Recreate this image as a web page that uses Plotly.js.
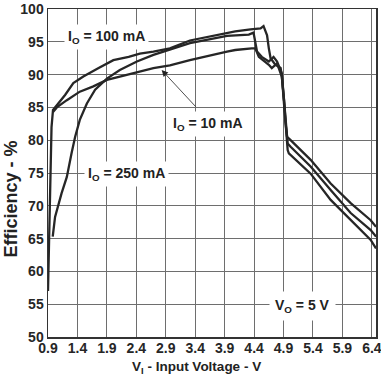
<!DOCTYPE html>
<html>
<head>
<meta charset="utf-8">
<script src="https://cdn.plot.ly/plotly-3.0.1.min.js"></script>
<style>html,body{margin:0;padding:0;background:#fff;}#chart{width:381px;height:376px;}</style>
</head>
<body>
<div id="chart"></div>
<script>
// I_O = 100 mA
var x100 = [0.90,0.93,0.96,0.985,1.02,1.10,1.19,1.33,1.50,1.76,2.01,2.27,2.46,2.69,2.97,3.31,3.90,4.08,4.34,4.51,4.56,4.62,4.65,4.68,4.76,4.85,4.87,4.90,4.93,4.96,5.02,5.36,5.70,6.04,6.38,6.47];
var y100 = [57.0,72.0,82.0,84.6,85.0,86.0,86.9,88.7,89.7,91.0,92.2,92.7,93.2,93.5,94.0,95.2,96.2,96.6,96.9,97.05,97.4,96.0,94.0,92.5,91.5,91.0,89.9,86.0,83.0,80.5,80.0,77.0,73.4,70.4,67.8,66.8];
// I_O = 250 mA
var x250 = [0.98,1.02,1.13,1.22,1.30,1.36,1.44,1.56,1.70,1.90,2.12,2.41,2.69,2.97,3.31,3.94,4.31,4.39,4.42,4.45,4.53,4.65,4.73,4.79,4.87,4.91,4.94,4.97,5.02,5.36,5.70,6.04,6.38,6.47];
var y250 = [65.3,68.3,71.9,74.4,78.0,80.5,83.1,85.6,87.7,89.4,90.7,92.0,93.0,93.8,94.8,95.9,96.1,96.4,95.0,93.5,92.7,92.0,92.7,92.0,90.2,86.0,82.5,79.5,79.0,76.0,72.4,68.9,66.3,65.3];
// I_O = 10 mA
var x10 = [0.985,1.05,1.22,1.44,1.67,1.90,2.12,2.41,2.69,2.97,3.31,3.94,4.08,4.36,4.42,4.48,4.56,4.65,4.70,4.79,4.87,4.91,4.94,4.97,4.99,5.36,5.70,6.04,6.38,6.47];
var y10 = [84.3,85.0,86.1,87.4,88.2,89.2,89.7,90.4,91.0,91.4,92.2,93.5,93.75,94.0,94.0,92.7,92.2,91.5,91.0,91.7,89.7,86.0,82.0,78.5,78.0,74.9,70.9,67.8,64.8,63.5];

var xTicks = [0.9,1.4,1.9,2.4,2.9,3.4,3.9,4.4,4.9,5.4,5.9,6.4];
var xTickText = ['0.9','1.4','1.9','2.4','2.9','3.4','3.9','4.4','4.9','5.4','5.9','6.4'];
var yTicks = [50,55,60,65,70,75,80,85,90,95,100];

var lineStyle = {color:'#262626', width:2.3};
var traces = [
  {x:x100, y:y100, mode:'lines', line:lineStyle, name:'I_O = 100 mA', hoverinfo:'skip'},
  {x:x250, y:y250, mode:'lines', line:lineStyle, name:'I_O = 250 mA', hoverinfo:'skip'},
  {x:x10,  y:y10,  mode:'lines', line:lineStyle, name:'I_O = 10 mA', hoverinfo:'skip'}
];

var fontFam = 'Liberation Sans, Arial, sans-serif';
var annFont = {family:fontFam, size:14, color:'#222', weight:'bold'};
var tickFont = {family:fontFam, size:14, color:'#262626', weight:'bold'};

var layout = {
  width:381, height:376,
  margin:{l:48, r:5, t:9, b:39},
  paper_bgcolor:'#fff', plot_bgcolor:'#fff',
  showlegend:false,
  font:{family:fontFam, size:14, color:'#222'},
  xaxis:{
    range:[0.9,6.47], tickmode:'array', tickvals:xTicks, ticktext:xTickText,
    showgrid:true, gridcolor:'#6e6e6e', gridwidth:1,
    showline:true, linecolor:'#333', linewidth:1.5, mirror:true,
    ticks:'', zeroline:false, fixedrange:true, ticklabeloverflow:'allow',
    ticklabelstandoff:-2,
    tickfont:tickFont
  },
  yaxis:{
    range:[50,100], tickmode:'array', tickvals:yTicks,
    showgrid:true, gridcolor:'#6e6e6e', gridwidth:1,
    showline:true, linecolor:'#333', linewidth:1.5, mirror:true,
    ticks:'', zeroline:false, fixedrange:true,
    tickfont:tickFont
  },
  annotations:[
    {xref:'paper', yref:'paper', x:0.454, y:-0.094, yanchor:'middle', xanchor:'center', showarrow:false,
     text:'V<sub>I</sub> - Input Voltage - V', font:{family:fontFam, size:13.5, color:'#222', weight:'bold'}},
    {xref:'paper', yref:'paper', x:-0.112, y:0.42, xanchor:'center', yanchor:'middle', showarrow:false, textangle:-90,
     text:'Efficiency - %', font:{family:fontFam, size:18, color:'#222', weight:'bold'}},
    {x:1.9, y:95.8, showarrow:false, text:'I<sub>O</sub> = 100 mA', font:annFont, bgcolor:'#fff', borderpad:3},
    {x:2.23, y:74.8, showarrow:false, text:'I<sub>O</sub> = 250 mA', font:annFont, bgcolor:'#fff', borderpad:3},
    {x:3.62, y:82.5, showarrow:false, text:'I<sub>O</sub> = 10 mA', font:annFont, bgcolor:'#fff', borderpad:3},
    {x:5.23, y:54.8, showarrow:false, text:'V<sub>O</sub> = 5 V', font:annFont, bgcolor:'#fff', borderpad:5},
    {x:2.83, y:90.7, ax:3.43, ay:84.9, axref:'x', ayref:'y', showarrow:true, text:'',
     arrowhead:2, arrowsize:1.6, arrowwidth:0.8, arrowcolor:'#222', standoff:0}
  ]
};

Plotly.newPlot('chart', traces, layout, {staticPlot:true, displayModeBar:false});
</script>
</body>
</html>
